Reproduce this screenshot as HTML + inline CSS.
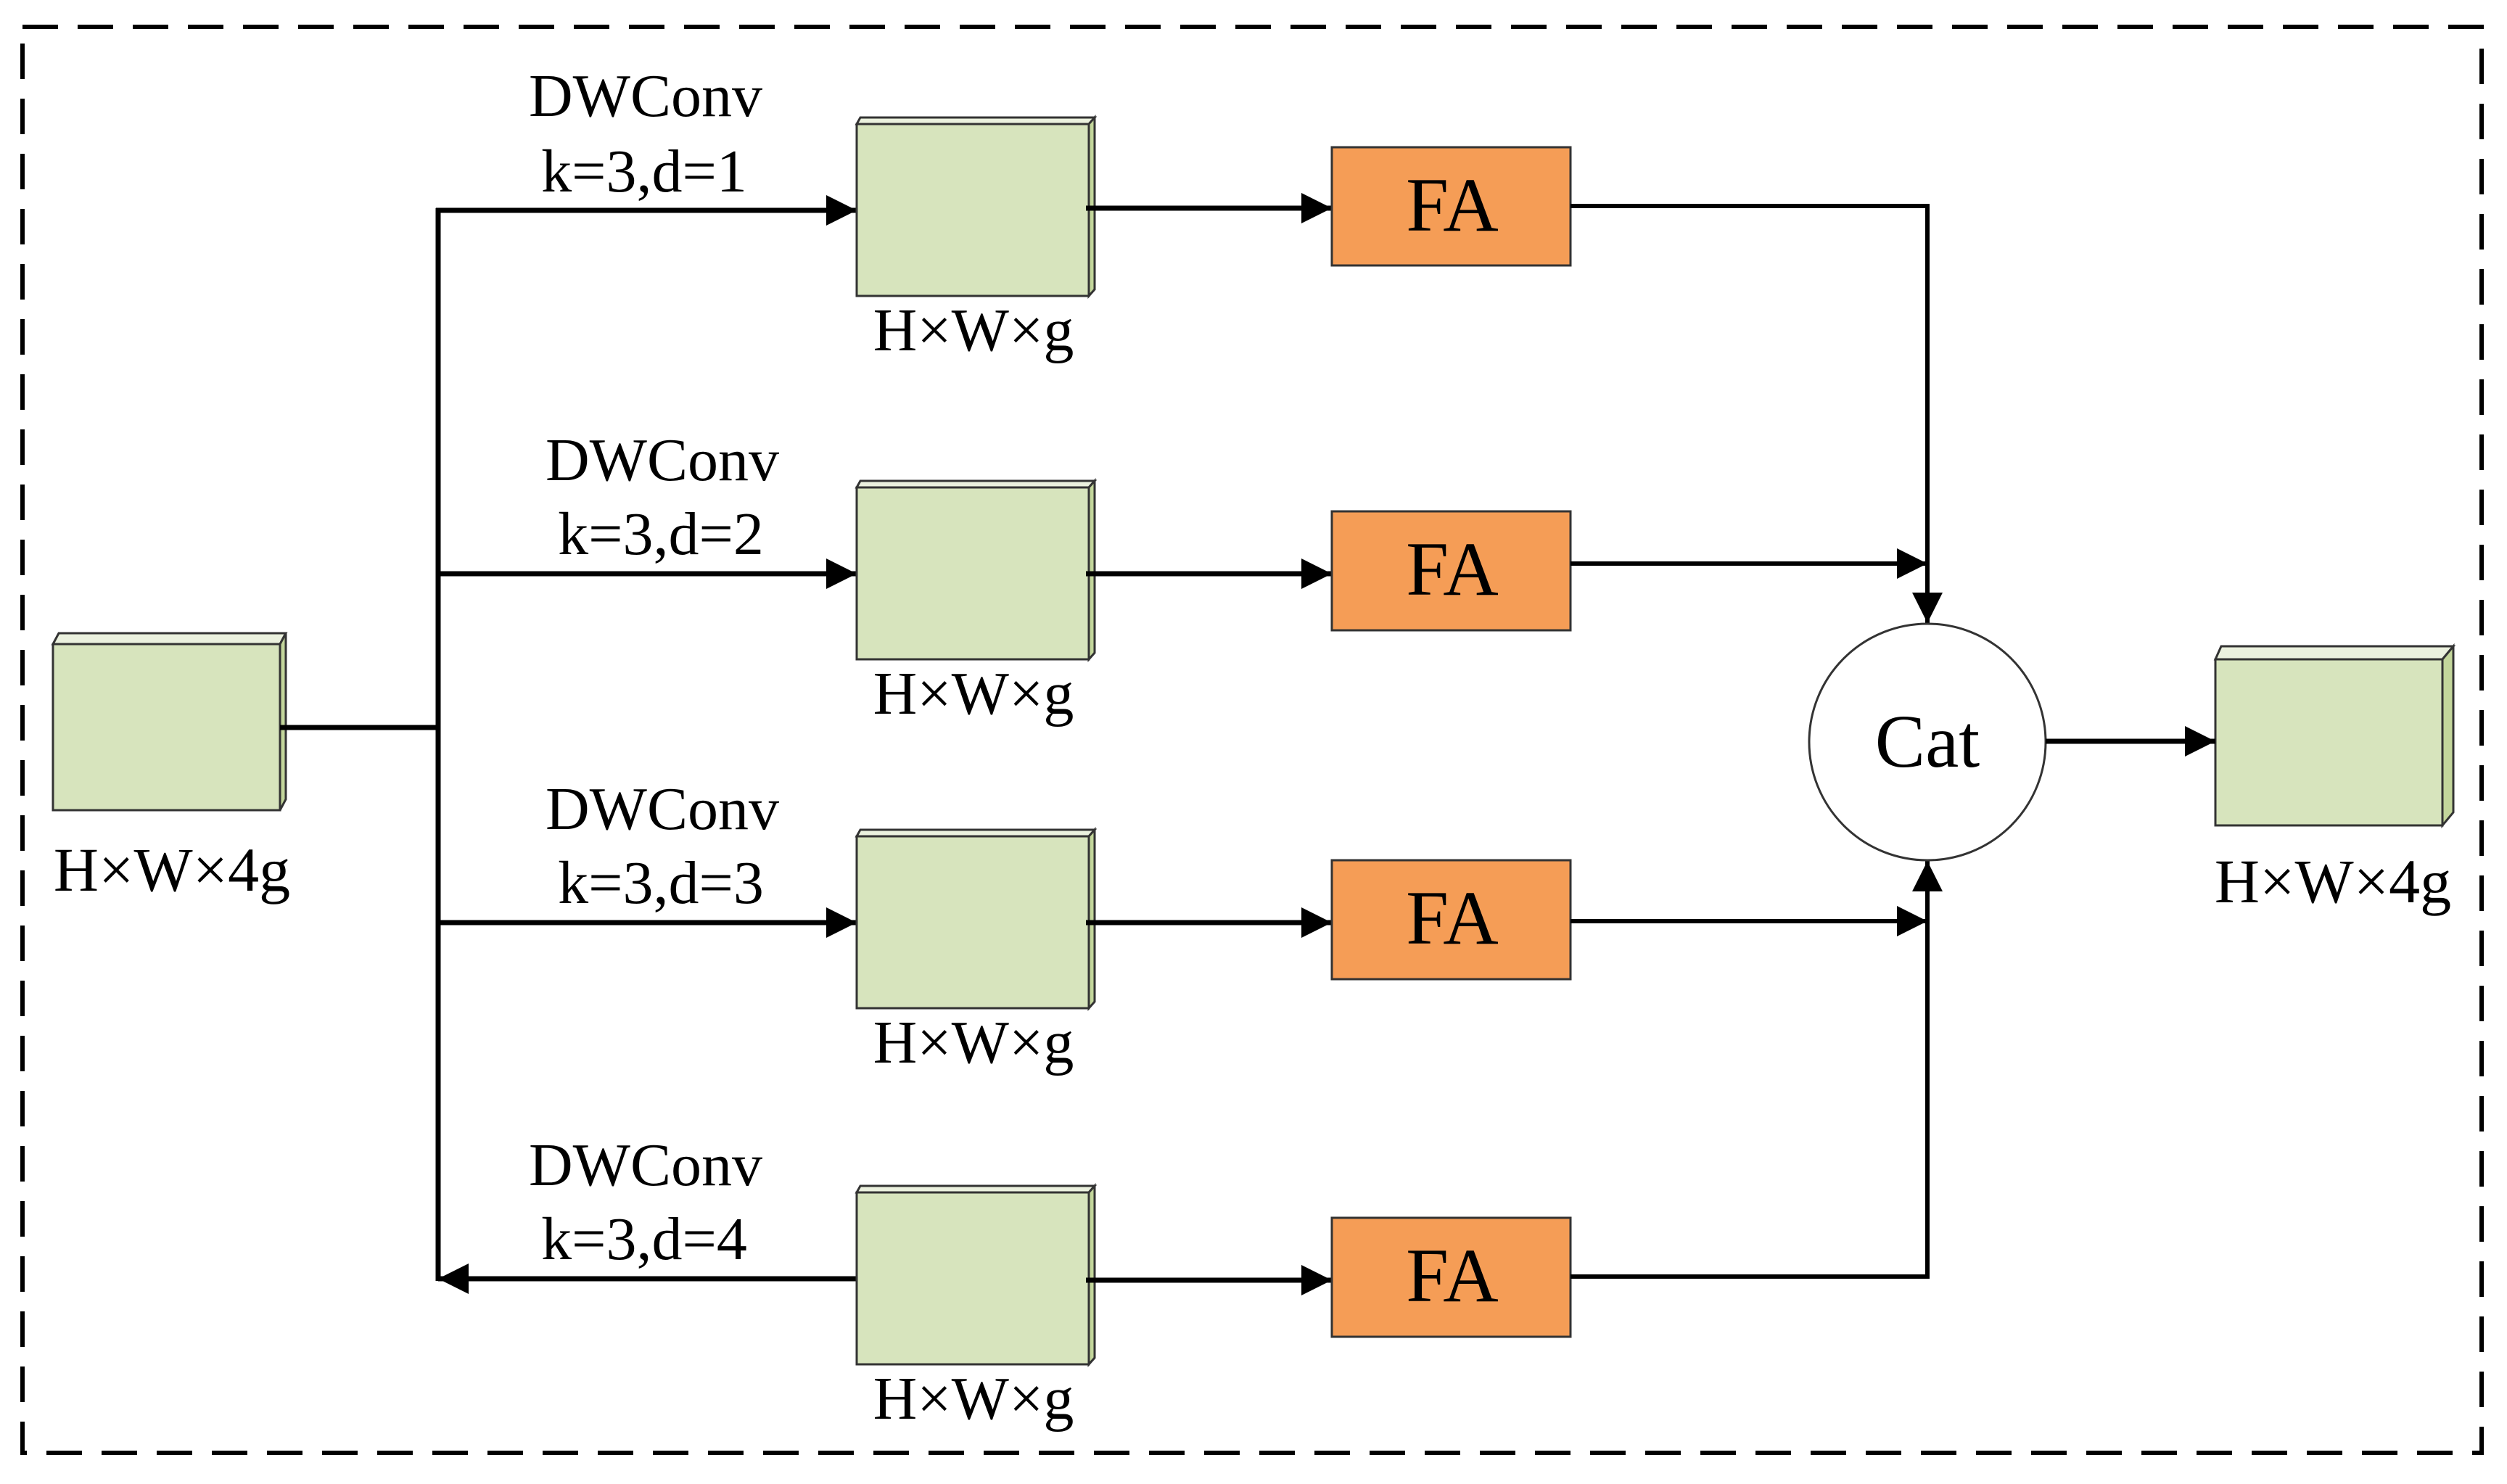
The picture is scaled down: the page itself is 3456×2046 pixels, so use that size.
<!DOCTYPE html>
<html><head><meta charset="utf-8"><style>
html,body{margin:0;padding:0;background:#fff}
svg{display:block}
text{font-family:"Liberation Serif",serif;fill:#000}
</style></head><body>
<svg width="3456" height="2046" viewBox="0 0 3456 2046" xmlns="http://www.w3.org/2000/svg">
<defs>
<marker id="ah" viewBox="0 0 10 10" refX="10" refY="5" markerWidth="7" markerHeight="6" markerUnits="strokeWidth" orient="auto"><path d="M0,0 L10,5 L0,10 z" fill="#000"/></marker>
<marker id="ah2" viewBox="0 0 10 10" refX="10" refY="5" markerWidth="9" markerHeight="7" markerUnits="strokeWidth" orient="auto"><path d="M0,0 L10,5 L0,10 z" fill="#000"/></marker>
</defs>
<rect x="31" y="37" width="3390" height="1966" fill="none" stroke="#000" stroke-width="6" stroke-dasharray="49 27"/>

<!-- input block -->
<g stroke="#333" stroke-width="3">
<polygon points="73,888 81,873 394,873 386,888" fill="#EBF1DE"/>
<polygon points="386,888 394,873 394,1102 386,1117" fill="#C3D69B"/>
<rect x="73" y="888" width="313" height="229" fill="#D7E4BD"/>
</g>
<text x="237" y="1228" font-size="86" text-anchor="middle">H×W×4g</text>

<!-- output block -->
<g stroke="#333" stroke-width="3">
<polygon points="3054,909 3062,891 3382,891 3367,909" fill="#EBF1DE"/>
<polygon points="3367,909 3382,891 3382,1120 3367,1138" fill="#C3D69B"/>
<rect x="3054" y="909" width="313" height="229" fill="#D7E4BD"/>
</g>
<text x="3216" y="1244" font-size="86" text-anchor="middle">H×W×4g</text>

<!-- trunk -->
<g stroke="#000" stroke-width="7" fill="none">
<line x1="386" y1="1003" x2="604" y2="1003"/>
<line x1="604" y1="287" x2="604" y2="1766"/>
<line x1="601" y1="290" x2="1181" y2="290" marker-end="url(#ah)"/>
<line x1="601" y1="791" x2="1181" y2="791" marker-end="url(#ah)"/>
<line x1="601" y1="1272" x2="1181" y2="1272" marker-end="url(#ah)"/>
<line x1="1181" y1="1763" x2="604" y2="1763" marker-end="url(#ah)"/>
</g>

<!-- middle blocks -->
<g stroke="#333" stroke-width="3">
<polygon points="1181,171 1186,162 1509,162 1501,171" fill="#EBF1DE"/>
<polygon points="1501,171 1509,162 1509,399 1501,408" fill="#C3D69B"/>
<rect x="1181" y="171" width="320" height="237" fill="#D7E4BD"/>
<polygon points="1181,672 1186,663 1509,663 1501,672" fill="#EBF1DE"/>
<polygon points="1501,672 1509,663 1509,900 1501,909" fill="#C3D69B"/>
<rect x="1181" y="672" width="320" height="237" fill="#D7E4BD"/>
<polygon points="1181,1153 1186,1144 1509,1144 1501,1153" fill="#EBF1DE"/>
<polygon points="1501,1153 1509,1144 1509,1381 1501,1390" fill="#C3D69B"/>
<rect x="1181" y="1153" width="320" height="237" fill="#D7E4BD"/>
<polygon points="1181,1644 1186,1635 1509,1635 1501,1644" fill="#EBF1DE"/>
<polygon points="1501,1644 1509,1635 1509,1872 1501,1881" fill="#C3D69B"/>
<rect x="1181" y="1644" width="320" height="237" fill="#D7E4BD"/>
</g>
<g font-size="84" text-anchor="middle">
<text x="1342" y="483">H×W×g</text>
<text x="1342" y="984">H×W×g</text>
<text x="1342" y="1465">H×W×g</text>
<text x="1342" y="1956">H×W×g</text>
<text x="890" y="160">DWConv</text><text x="888" y="264">k=3,d=1</text>
<text x="913" y="662">DWConv</text><text x="911" y="764">k=3,d=2</text>
<text x="913" y="1143">DWConv</text><text x="911" y="1245">k=3,d=3</text>
<text x="890" y="1634">DWConv</text><text x="888" y="1736">k=3,d=4</text>
</g>

<!-- block to FA arrows -->
<g stroke="#000" stroke-width="7" fill="none">
<line x1="1497" y1="287" x2="1836" y2="287" marker-end="url(#ah)"/>
<line x1="1497" y1="791" x2="1836" y2="791" marker-end="url(#ah)"/>
<line x1="1497" y1="1272" x2="1836" y2="1272" marker-end="url(#ah)"/>
<line x1="1497" y1="1765" x2="1836" y2="1765" marker-end="url(#ah)"/>
</g>

<!-- FA boxes -->
<g fill="#F59D56" stroke="#333" stroke-width="3">
<rect x="1836" y="203" width="329" height="163"/>
<rect x="1836" y="705" width="329" height="164"/>
<rect x="1836" y="1186" width="329" height="164"/>
<rect x="1836" y="1679" width="329" height="164"/>
</g>
<g font-size="106" text-anchor="middle">
<text x="2002" y="318">FA</text>
<text x="2002" y="820">FA</text>
<text x="2002" y="1301">FA</text>
<text x="2002" y="1794">FA</text>
</g>

<!-- collectors -->
<g stroke="#000" stroke-width="6" fill="none">
<polyline points="2165,284 2657,284 2657,859" marker-end="url(#ah2)"/>
<line x1="2165" y1="777" x2="2657" y2="777" marker-end="url(#ah2)"/>
<line x1="2165" y1="1270" x2="2657" y2="1270" marker-end="url(#ah2)"/>
<polyline points="2165,1760 2657,1760 2657,1187" marker-end="url(#ah2)"/>
</g>
<circle cx="2657" cy="1023" r="163" fill="#fff" stroke="#333" stroke-width="3"/>
<text x="2657" y="1057" font-size="104" text-anchor="middle">Cat</text>
<line x1="2820" y1="1022" x2="3054" y2="1022" stroke="#000" stroke-width="7" marker-end="url(#ah)"/>
</svg>
</body></html>
